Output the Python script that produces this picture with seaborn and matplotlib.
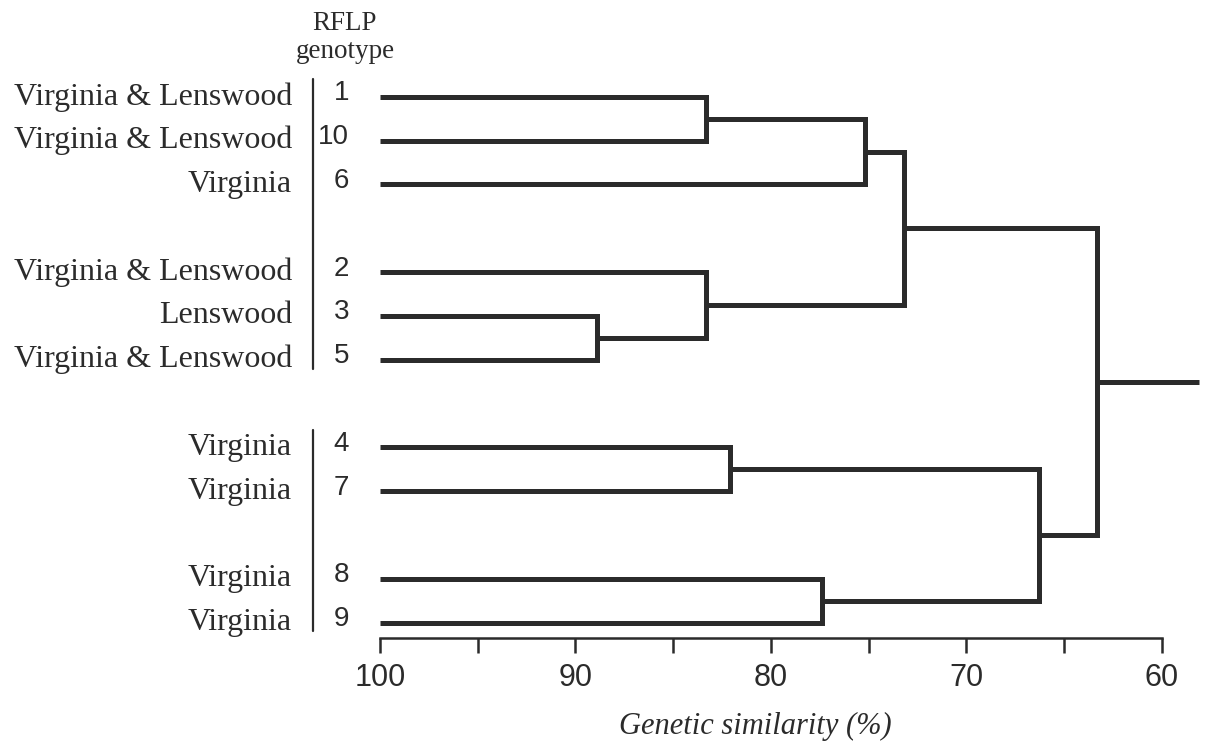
import numpy as np
import pandas as pd
import matplotlib.pyplot as plt
import matplotlib.transforms as mtransforms
import seaborn as sns

genotypes = ["1", "10", "6", "2", "3", "5", "4", "7", "8", "9"]
sites = ["Virginia & Lenswood", "Virginia & Lenswood", "Virginia",
         "Virginia & Lenswood", "Lenswood", "Virginia & Lenswood",
         "Virginia", "Virginia", "Virginia", "Virginia"]
leaf_rows = [0, 1, 2, 4, 5, 6, 8, 9, 11, 12]

# Nodos 0-9 son hojas, 10+ son los grupos en el orden de abajo
merge_a = [0, 10, 4, 3, 11, 6, 8, 15, 14]
merge_b = [1, 2, 5, 12, 13, 7, 9, 16, 17]
merge_sim = [83.3, 75.2, 88.9, 83.3, 73.2, 82.1, 77.4, 66.3, 63.3]
root_end = 58.1

# Barras verticales junto a los numeros (indices de hoja)
bar_groups = [(0, 5), (6, 9)]

major_ticks = [100, 90, 80, 70, 60]
minor_ticks = [95, 85, 75, 65]

ink = "#2b2b2b"

# Construir los segmentos del dendrograma
node_y = list(leaf_rows)
node_h = [100.0] * len(leaf_rows)
rows = []
for i, (a, b, h) in enumerate(zip(merge_a, merge_b, merge_sim)):
    seg = f"m{i}"
    for x, y in [(node_h[a], node_y[a]), (h, node_y[a]),
                 (h, node_y[b]), (node_h[b], node_y[b])]:
        rows.append((seg, x, y))
    node_y.append((node_y[a] + node_y[b]) / 2)
    node_h.append(h)
rows.append(("root", node_h[-1], node_y[-1]))
rows.append(("root", root_end, node_y[-1]))
seg_df = pd.DataFrame(rows, columns=["seg", "sim", "row"])

sns.set_theme(style="white")
plt.rcParams["font.family"] = ["Liberation Sans", "DejaVu Sans"]

W, H = 1208, 751
fig = plt.figure(figsize=(W / 100, H / 100), dpi=100)
ax = fig.add_axes([380 / W, (H - 638) / H, (1201 - 380) / W, 585 / H])

sns.lineplot(data=seg_df, x="sim", y="row", units="seg", estimator=None,
             sort=False, color=ink, linewidth=3.6, legend=False, ax=ax)
for ln in ax.lines:
    ln.set_solid_joinstyle("miter")
    ln.set_solid_capstyle("butt")

ax.set_xlim(100, 58)
ax.set_ylim(12.35, -1)

# Eje x
for s in ["left", "right", "top"]:
    ax.spines[s].set_visible(False)
ax.spines["bottom"].set_bounds(60, 100)
ax.spines["bottom"].set_linewidth(1.8)
ax.spines["bottom"].set_color(ink)
ax.set_xticks(major_ticks)
ax.set_xticks(minor_ticks, minor=True)
ax.set_xticklabels([str(t) for t in major_ticks])
ax.tick_params(axis="x", which="both", direction="out", length=11, width=1.8,
               color=ink, labelsize=22, labelcolor=ink, pad=7, bottom=True)
ax.set_yticks([])
ax.set_ylabel("")
ax.set_xlabel("Genetic similarity (%)", fontfamily="Liberation Serif",
              style="italic", fontsize=22, color=ink)
ax.xaxis.set_label_coords(0.4568, -0.152)
ax.xaxis.label.set_va("center")

# Etiquetas de hojas
trans = mtransforms.blended_transform_factory(fig.transFigure, ax.transData)
for g, s, r in zip(genotypes, sites, leaf_rows):
    ax.text(292 / W, r, s, transform=trans, ha="right", va="center",
            fontfamily="Liberation Serif", fontsize=23, color=ink)
    ax.text(349 / W, r - 0.08, g, transform=trans, ha="right", va="center",
            fontfamily="Liberation Sans", fontsize=20, color=ink)

for lo, hi in bar_groups:
    ax.plot([313 / W, 313 / W], [leaf_rows[lo] - 0.4, leaf_rows[hi] + 0.2],
            transform=trans, color=ink, lw=1.6, clip_on=False)

fig.text(345 / W, 1 - 24 / H, "RFLP", ha="center", va="center",
         fontfamily="Liberation Serif", fontsize=19.5, color=ink)
fig.text(345 / W, 1 - 51 / H, "genotype", ha="center", va="center",
         fontfamily="Liberation Serif", fontsize=19.5, color=ink)

plt.savefig("out.png", dpi=100)
